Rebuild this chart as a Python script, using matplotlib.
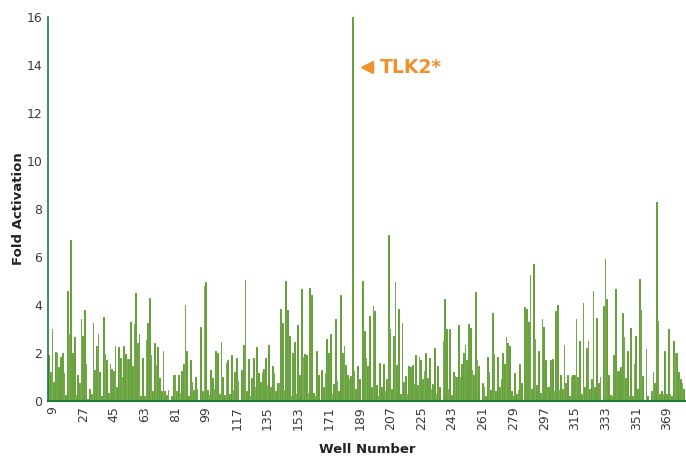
import numpy as np
import matplotlib.pyplot as plt

# Fold activation per well left to right
fold = [
    1.9, 1.2, 3.0, 0.8, 2.05, 2.0, 1.4, 1.85, 2.0, 1.15, 0.25, 4.6, 2.8, 6.7, 2.0, 2.65,
    0.25, 1.1, 0.75, 3.4, 2.7, 3.8, 1.55, 0.1, 0.5, 0.3, 3.25, 1.3, 2.3, 2.8, 1.2, 0.2, 3.5,
    1.95, 1.7, 0.35, 1.55, 1.35, 1.25, 2.3, 0.6,
    2.25, 1.8, 1.0, 2.3, 1.95, 1.75, 1.75, 3.3, 1.45, 3.2, 4.5, 2.4, 2.8, 0.2, 1.8, 0.2,
    2.55, 3.25, 4.3, 1.9, 0.4, 2.4, 1.5, 2.25, 0.95, 0.4, 2.1, 0.4, 0.25, 0.45, 0.05, 0.2,
    1.1, 1.1, 0.4, 1.1, 0.35, 1.25, 1.55, 4.0, 2.1,
    0.2, 1.7, 0.8, 0.45, 1.0, 0.5, 0.0, 3.1, 0.4, 4.8, 4.95, 0.45, 0.25, 1.3, 0.95, 0.5, 2.1,
    2.0, 0.3, 2.45, 1.0, 0.25, 1.6, 1.7, 0.3, 1.9, 0.45, 1.2, 1.8, 0.85, 0.0, 1.3, 2.35, 5.05,
    0.4, 1.75, 0.2, 0.95, 1.8, 0.6, 2.25, 1.15, 0.8,
    1.2, 1.35, 1.8, 0.65, 2.35, 0.6, 1.45, 1.15, 0.4, 0.75, 0.75, 3.85, 3.25, 0.45, 5.0, 3.8, 2.7,
    0.2, 2.0, 2.45, 0.3, 3.15, 1.1, 4.65, 1.85, 1.95, 1.9, 0.35, 4.7, 4.4, 0.35, 0.2, 2.1, 1.1,
    0.0, 1.3, 0.6, 1.15, 2.6, 2.0, 2.8, 0.3, 0.7, 3.4,
    0.85, 0.4, 4.4, 2.0, 2.3, 1.5, 1.1, 0.9, 1.05, 16.2, 1.25, 0.5, 1.45, 0.9, 0.0,
    5.0, 2.9, 1.8, 1.45, 3.55, 0.6, 3.95, 3.75, 0.65, 0.2, 1.6, 0.6, 1.55, 0.4, 0.9, 6.9,
    3.0, 0.5, 2.7, 4.95, 1.5, 3.85, 0.3, 3.25,
    0.8, 1.05, 0.3, 1.45, 1.4, 1.5, 0.7, 1.9, 0.65, 1.85, 1.7, 0.9, 1.25, 2.0, 0.95, 1.8, 0.5,
    0.7, 2.2, 0.3, 1.45, 0.6, 0.0, 2.5, 4.25, 3.0, 0.5, 3.0, 0.25, 1.2, 1.05, 1.0, 3.15, 1.0,
    1.55, 2.0, 2.35, 1.7, 3.2, 3.05, 1.3, 1.1, 4.55,
    1.7, 1.45, 0.0, 0.75, 0.6, 0.2, 1.85, 1.2, 0.45, 3.65, 1.95, 0.4, 1.85, 0.6, 0.9, 2.0, 1.55,
    2.65, 2.4, 2.3, 0.4, 0.2, 1.15, 0.3, 0.45, 1.55, 0.75, 0.0, 3.9, 3.85, 3.3, 5.25, 0.5,
    5.7, 2.6, 0.65, 2.1, 0.35, 3.4, 3.1, 1.7, 0.6,
    0.6, 1.7, 1.75, 0.4, 3.75, 4.0, 0.45, 1.1, 0.5, 2.35, 0.75, 1.1, 0.2, 1.0, 1.1, 1.1, 3.4,
    1.0, 2.5, 0.3, 4.1, 0.6, 2.2, 2.5, 0.5, 0.9, 4.6, 0.6, 3.45, 0.75, 1.0, 0.0, 3.95, 5.9, 4.25,
    1.1, 0.25, 0.2, 1.9, 4.65, 1.25, 1.25, 1.4,
    3.65, 2.65, 0.95, 2.1, 0.2, 3.05, 0.2, 1.55, 2.7, 0.5, 5.1, 3.8, 1.05, 0.0, 2.15, 0.2,
    0.05, 0.4, 1.2, 0.75, 8.3, 3.35, 0.3, 0.4, 0.3, 2.1, 0.3, 3.0, 0.3, 0.2, 2.5, 2.0,
    2.0, 1.2, 0.9, 0.75, 0.5,
]
first_well = 7
wells = np.arange(first_well, first_well + len(fold))
tick_wells = list(range(9, 370, 18))

green = "#5b9a2e"
dark_green = "#1b7d3c"
orange = "#f0922b"

fig = plt.figure(figsize=(6.86, 4.58), dpi=100)
ax = fig.add_axes([0.07, 0.1245, 0.93, 0.8385])

ax.bar(wells, fold, width=1.0, color=green, edgecolor="white", linewidth=0.1)

ax.set_ylim(0, 16)
ax.set_xlim(6.4, 380.1)
ax.set_yticks(range(0, 17, 2))
ax.set_xticks(tick_wells)
ax.set_xticklabels([str(t) for t in tick_wells], rotation=90)
ax.tick_params(length=0, labelsize=9, colors="#3a3a3a", pad=4)

for s in ["top", "right"]:
    ax.spines[s].set_visible(False)
ax.spines["left"].set_color(dark_green)
ax.spines["bottom"].set_color(dark_green)
ax.spines["left"].set_linewidth(1.2)
ax.spines["bottom"].set_linewidth(1.5)

ax.set_ylabel("Fold Activation", fontsize=9.5, fontweight="semibold", color="#222222", labelpad=1)
ax.set_xlabel("Well Number", fontsize=9.5, fontweight="semibold", color="#222222", labelpad=9)

# label for the hit
peak = wells[int(np.argmax(fold))]
ax.plot(peak + 8.5, 13.9, marker="<", color=orange, markersize=9, clip_on=False)
ax.text(peak + 15.5, 13.9, "TLK2*", color=orange, fontsize=13.5, fontweight="bold", va="center")

fig.savefig("out.png", dpi=100)
